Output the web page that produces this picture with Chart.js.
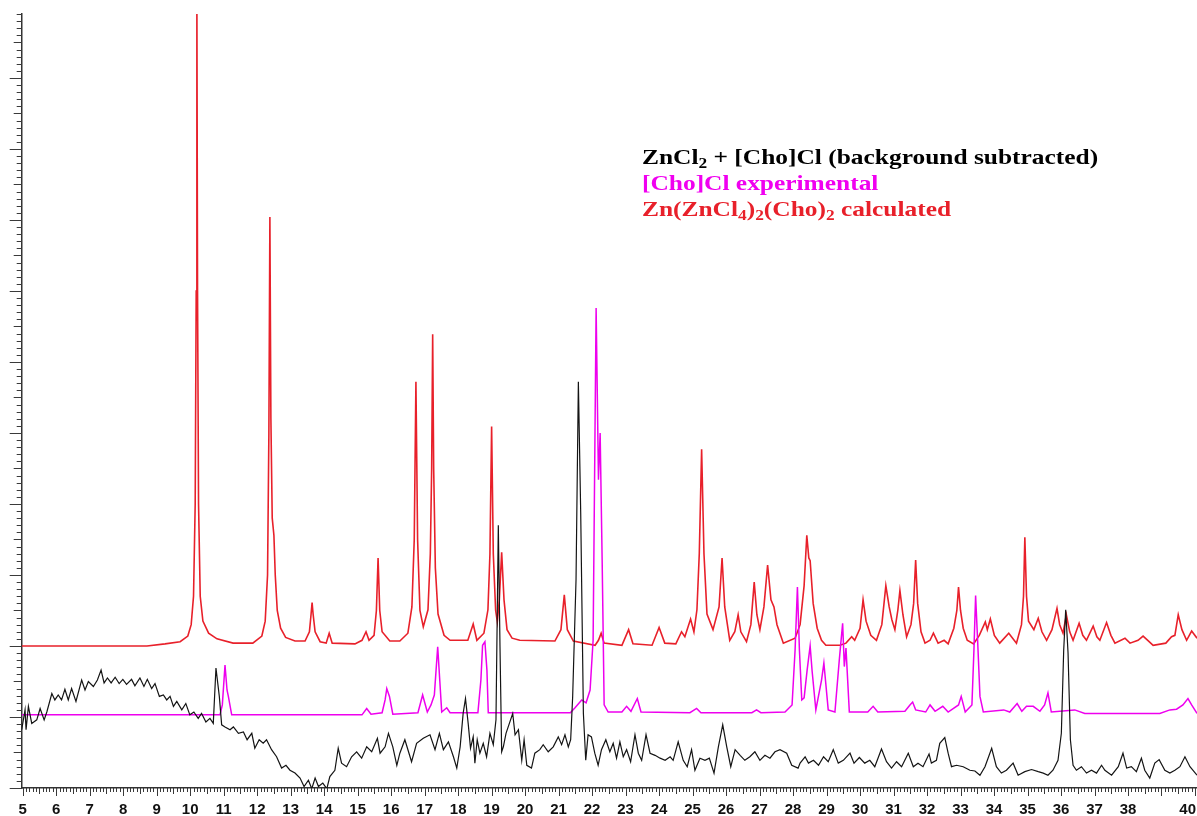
<!DOCTYPE html>
<html>
<head>
<meta charset="utf-8">
<title>XRD patterns</title>
<script src="https://cdn.jsdelivr.net/npm/chart.js@4.4.0/dist/chart.umd.min.js"></script>
<style>
    body { margin: 0; background: #fff; }
    #wrap { position: relative; width: 1197px; height: 816px; }
    #xrdChart { position: absolute; left: 0; top: 0; }
    #legend {
        position: absolute;
        left: 642px;
        top: 144px;
        font: bold 22px "Liberation Serif", "Times New Roman", serif;
        line-height: 26px;
        white-space: nowrap;
        transform: scaleX(1.155);
        transform-origin: 0 0;
    }
    #legend .sub { font-size: 15px; vertical-align: -4px; line-height: 0; }
</style>
</head>
<body>
<div id="wrap">
    <canvas id="xrdChart" width="1197" height="816"></canvas>
    <div id="legend">
        <div style="color:#000">ZnCl<span class="sub">2</span> + [Cho]Cl (background subtracted)</div>
        <div style="color:#f000f0">[Cho]Cl experimental</div>
        <div style="color:#e8202a">Zn(ZnCl<span class="sub">4</span>)<span class="sub">2</span>(Cho)<span class="sub">2</span> calculated</div>
    </div>
</div>
<script>
// ===================================
// Difractogramas: calculado, [Cho]Cl y mezcla
// ===================================

// eje x (2θ) y etiquetas
const xMin = 4.97;
const xMax = 40.06;
const yMin = 0;
const yMax = 109;
const xTickLabels = [5, 6, 7, 8, 9, 10, 11, 12, 13, 14, 15, 16, 17, 18, 19, 20, 21, 22, 23, 24, 25, 26, 27, 28, 29, 30, 31, 32, 33, 34, 35, 36, 37, 38, 40];

// Zn(ZnCl4)2(Cho)2 calculado  [2θ, intensidad]
const calculated = [
    [4.97, 20.0], [8.71, 20.0], [9.25, 20.3], [9.70, 20.6], [9.93, 21.4], [10.03, 23.0], [10.10, 27], [10.15, 40],
    [10.18, 70], [10.20, 112], [10.22, 70], [10.25, 40], [10.30, 27], [10.38, 23.5], [10.55, 21.8], [10.8, 21],
    [11.28, 20.4], [11.87, 20.4], [12.14, 21.4], [12.24, 23.5], [12.31, 30], [12.35, 50], [12.38, 80.4], [12.41, 52],
    [12.45, 38], [12.50, 35.6], [12.54, 30], [12.60, 25], [12.70, 22.5], [12.85, 21.2], [13.13, 20.7], [13.43, 20.7],
    [13.56, 22.0], [13.61, 24.5], [13.64, 26.1], [13.67, 24.5], [13.73, 22.0], [13.88, 20.6], [14.06, 20.4], [14.15, 21.8],
    [14.24, 20.4], [14.92, 20.3], [15.13, 20.8], [15.25, 22.0], [15.34, 20.8], [15.49, 21.5], [15.56, 25], [15.61, 32.4],
    [15.66, 25], [15.73, 22.0], [15.96, 20.7], [16.26, 20.7], [16.50, 21.8], [16.62, 25.5], [16.69, 35], [16.74, 57.2],
    [16.79, 35], [16.86, 25], [16.96, 22.7], [17.10, 25.1], [17.17, 33], [17.21, 45], [17.24, 63.9], [17.27, 45],
    [17.32, 31], [17.40, 24.5], [17.58, 21.5], [17.76, 20.8], [18.29, 20.8], [18.45, 23.1], [18.56, 20.8], [18.77, 21.8],
    [18.89, 25.1], [18.95, 33], [19.00, 50.9], [19.05, 33], [19.12, 25], [19.17, 23.4], [19.23, 26.5], [19.30, 33.2],
    [19.37, 26.5], [19.46, 22.3], [19.61, 21.1], [19.84, 20.8], [20.89, 20.7], [21.07, 22.3], [21.17, 27.2], [21.26, 22.3],
    [21.44, 20.7], [22.09, 20.1], [22.19, 20.8], [22.27, 21.8], [22.36, 20.4], [22.89, 20.1], [23.09, 22.3], [23.22, 20.3],
    [23.79, 20.1], [24.00, 22.6], [24.17, 20.4], [24.50, 20.3], [24.67, 22.0], [24.77, 21.3], [24.94, 23.8], [25.04, 22.0],
    [25.13, 25.1], [25.20, 33], [25.27, 47.7], [25.34, 33], [25.43, 24.5], [25.61, 22.3], [25.79, 25.5], [25.88, 32.4],
    [25.96, 25.5], [26.11, 20.8], [26.26, 22.0], [26.36, 24.4], [26.44, 22.0], [26.61, 20.6], [26.74, 23.0], [26.84, 29.0],
    [26.92, 24.4], [27.01, 22.3], [27.13, 25.5], [27.24, 31.4], [27.34, 26.5], [27.43, 25.5], [27.52, 23.0], [27.71, 20.4],
    [28.06, 21.1], [28.21, 23.0], [28.33, 28.5], [28.41, 35.6], [28.47, 32.4], [28.51, 32.0], [28.60, 26], [28.72, 22.5],
    [28.85, 20.8], [28.98, 20.1], [29.40, 20.1], [29.58, 20.4], [29.75, 21.3], [29.84, 20.8], [30.00, 22.5], [30.09, 26.5],
    [30.18, 23.5], [30.32, 21.5], [30.49, 20.8], [30.65, 23.0], [30.77, 28.5], [30.87, 25.5], [30.95, 23.7], [31.04, 22.3],
    [31.13, 25.1], [31.19, 27.8], [31.28, 24.4], [31.39, 21.3], [31.52, 23.0], [31.60, 26], [31.66, 32.1], [31.72, 26],
    [31.82, 22.0], [31.94, 20.4], [32.09, 20.8], [32.19, 21.8], [32.33, 20.4], [32.51, 20.8], [32.63, 20.3], [32.80, 22.5],
    [32.89, 25], [32.94, 28.3], [33.00, 25], [33.08, 22.5], [33.20, 20.8], [33.39, 20.3], [33.56, 21.5], [33.74, 23.4],
    [33.80, 22.3], [33.89, 23.8], [34.01, 21.5], [34.17, 20.4], [34.44, 21.8], [34.67, 20.4], [34.82, 23.0], [34.88, 27],
    [34.92, 35.3], [34.97, 27], [35.03, 23.5], [35.19, 22.3], [35.32, 23.9], [35.43, 22.0], [35.57, 20.8], [35.73, 22.3],
    [35.88, 25.3], [35.96, 23.0], [36.06, 21.8], [36.16, 24.4], [36.26, 22.0], [36.36, 20.8], [36.54, 23.2], [36.65, 21.5],
    [36.76, 20.8], [36.96, 22.8], [37.07, 21.3], [37.16, 20.8], [37.36, 23.3], [37.49, 21.5], [37.61, 20.4], [37.91, 21.1],
    [38.06, 20.4], [38.30, 20.8], [38.45, 21.4], [38.59, 20.8], [38.75, 20.1], [39.13, 20.4], [39.30, 21.3], [39.40, 21.5],
    [39.50, 24.4], [39.61, 22.3], [39.75, 20.8], [39.90, 22.1], [40.06, 21.1]
];

// [Cho]Cl experimental
const experimental = [
    [4.97, 10.3], [10.89, 10.3], [10.96, 11.7], [11.04, 17.3], [11.10, 13.8], [11.14, 12.9], [11.24, 10.3], [15.13, 10.3],
    [15.27, 11.2], [15.40, 10.4], [15.73, 10.6], [15.82, 12.4], [15.87, 14.0], [15.95, 12.9], [16.05, 10.4], [16.80, 10.6],
    [16.94, 13.1], [17.08, 10.7], [17.19, 11.7], [17.29, 13.1], [17.39, 19.9], [17.51, 10.7], [17.66, 11.3], [17.76, 10.6],
    [18.59, 10.6], [18.68, 15.2], [18.73, 20.1], [18.80, 20.6], [18.86, 16.6], [18.90, 10.6], [21.35, 10.6], [21.49, 11.3],
    [21.69, 12.4], [21.82, 12.0], [21.94, 13.8], [22.03, 20.8], [22.12, 67.6], [22.19, 43.4], [22.24, 50.0], [22.30, 32.1],
    [22.36, 11.7], [22.48, 10.7], [22.89, 10.7], [23.03, 11.5], [23.16, 10.8], [23.35, 12.6], [23.46, 10.7], [24.92, 10.6],
    [25.12, 11.2], [25.25, 10.6], [26.77, 10.6], [26.91, 11.0], [27.04, 10.6], [27.76, 10.7], [27.97, 11.7], [28.06, 19.4],
    [28.13, 28.3], [28.19, 19.4], [28.26, 12.4], [28.33, 12.7], [28.42, 16.6], [28.51, 20.0], [28.57, 16.4], [28.68, 11.0],
    [28.85, 15.2], [28.92, 17.6], [29.05, 11.0], [29.25, 10.7], [29.38, 18.0], [29.48, 23.2], [29.53, 17.1], [29.58, 19.7],
    [29.68, 10.7], [30.23, 10.7], [30.39, 11.5], [30.53, 10.7], [31.34, 10.8], [31.49, 11.7], [31.57, 12.1], [31.66, 11.0],
    [31.96, 10.7], [32.09, 11.7], [32.24, 10.8], [32.47, 11.5], [32.63, 10.7], [32.94, 11.7], [33.02, 12.9], [33.14, 10.7],
    [33.34, 11.7], [33.40, 19.4], [33.45, 27.1], [33.51, 20.8], [33.58, 12.9], [33.68, 10.7], [34.29, 11.0], [34.47, 10.7],
    [34.69, 11.9], [34.83, 10.8], [34.97, 11.5], [35.17, 11.5], [35.37, 10.8], [35.51, 11.7], [35.61, 13.4], [35.71, 10.7],
    [36.41, 11.0], [36.71, 10.5], [38.95, 10.5], [39.25, 11.0], [39.45, 11.1], [39.64, 11.7], [39.79, 12.6], [39.90, 11.7],
    [40.06, 10.5]
];

// ZnCl2 + [Cho]Cl (fondo restado)
const mixture = [
    [4.97, 8.2], [5.07, 11.0], [5.10, 8.2], [5.17, 11.5], [5.27, 9.1], [5.42, 9.6], [5.52, 11.2], [5.64, 9.6],
    [5.72, 10.7], [5.87, 13.3], [5.96, 12.4], [6.06, 13.1], [6.16, 12.4], [6.26, 13.9], [6.36, 12.4], [6.46, 14.0],
    [6.59, 12.2], [6.76, 15.2], [6.86, 13.8], [6.96, 15.0], [7.11, 14.3], [7.23, 15.2], [7.34, 16.6], [7.43, 14.8],
    [7.53, 15.5], [7.64, 14.8], [7.76, 15.6], [7.88, 14.7], [7.99, 15.3], [8.10, 14.6], [8.25, 15.3], [8.35, 14.4],
    [8.50, 15.5], [8.62, 14.3], [8.72, 15.3], [8.85, 14.0], [8.95, 14.7], [9.08, 12.9], [9.20, 13.1], [9.30, 12.4],
    [9.40, 12.9], [9.50, 11.5], [9.60, 12.2], [9.75, 11.0], [9.87, 11.9], [9.99, 10.3], [10.11, 10.7], [10.24, 9.8],
    [10.34, 10.5], [10.47, 9.3], [10.59, 9.8], [10.69, 9.1], [10.77, 16.9], [10.87, 12.9], [10.94, 8.9], [11.04, 8.6],
    [11.19, 8.2], [11.29, 8.6], [11.44, 7.7], [11.59, 7.9], [11.70, 6.8], [11.84, 7.7], [11.93, 5.6], [12.06, 6.8],
    [12.18, 6.3], [12.28, 6.8], [12.43, 5.4], [12.58, 4.4], [12.73, 2.8], [12.86, 3.2], [12.98, 2.5], [13.13, 2.1],
    [13.28, 1.4], [13.40, 0.2], [13.53, 1.1], [13.63, -0.1], [13.73, 1.4], [13.83, 0.2], [13.96, 0.7], [14.08, -0.1],
    [14.17, 1.6], [14.32, 2.5], [14.42, 5.6], [14.52, 3.5], [14.67, 3.0], [14.82, 4.4], [14.97, 5.1], [15.12, 4.2],
    [15.27, 5.8], [15.42, 5.1], [15.59, 7.0], [15.67, 4.9], [15.82, 5.8], [15.92, 7.7], [16.05, 5.8], [16.17, 3.2],
    [16.26, 4.9], [16.41, 6.8], [16.61, 3.7], [16.76, 6.3], [16.96, 7.0], [17.16, 7.5], [17.31, 5.4], [17.44, 7.7],
    [17.56, 5.4], [17.71, 6.5], [17.86, 4.4], [17.96, 2.8], [18.06, 5.8], [18.15, 10.5], [18.22, 12.6], [18.30, 9.1],
    [18.37, 5.6], [18.45, 7.2], [18.50, 3.5], [18.57, 6.8], [18.65, 4.9], [18.75, 6.3], [18.85, 4.4], [18.95, 7.7],
    [19.05, 6.1], [19.13, 9.6], [19.20, 37.0], [19.25, 19.9], [19.30, 5.1], [19.35, 5.8], [19.43, 7.7], [19.53, 9.1],
    [19.63, 10.5], [19.70, 7.5], [19.80, 8.2], [19.90, 3.9], [19.97, 6.8], [20.05, 3.2], [20.19, 2.8], [20.29, 4.9],
    [20.44, 5.4], [20.54, 6.1], [20.69, 5.1], [20.84, 5.8], [20.99, 7.2], [21.09, 6.1], [21.19, 7.5], [21.29, 5.8],
    [21.36, 6.8], [21.42, 12.9], [21.52, 29.3], [21.59, 57.2], [21.66, 38.7], [21.74, 10.5], [21.81, 3.9], [21.88, 7.5],
    [21.98, 7.2], [22.08, 4.9], [22.18, 3.2], [22.28, 5.4], [22.41, 6.8], [22.53, 5.1], [22.63, 6.3], [22.73, 4.2],
    [22.83, 6.5], [22.93, 4.4], [23.03, 5.4], [23.15, 3.7], [23.28, 7.5], [23.38, 4.9], [23.48, 3.9], [23.61, 7.5],
    [23.73, 4.9], [23.88, 4.6], [24.03, 4.2], [24.18, 3.9], [24.33, 4.4], [24.42, 3.9], [24.57, 6.5], [24.72, 3.9],
    [24.84, 3.0], [24.97, 5.4], [25.07, 2.5], [25.22, 4.2], [25.37, 3.9], [25.50, 4.2], [25.64, 2.1], [25.77, 5.8],
    [25.90, 8.9], [26.02, 5.8], [26.14, 3.0], [26.27, 5.4], [26.42, 4.6], [26.56, 3.9], [26.71, 4.4], [26.86, 5.1],
    [27.01, 3.9], [27.16, 4.6], [27.31, 4.2], [27.46, 5.1], [27.61, 5.4], [27.81, 4.9], [27.96, 3.2], [28.15, 2.8],
    [28.21, 3.5], [28.36, 4.4], [28.46, 3.5], [28.61, 3.9], [28.76, 3.2], [28.91, 4.4], [29.05, 3.7], [29.20, 5.4],
    [29.35, 3.5], [29.50, 3.9], [29.70, 4.9], [29.82, 3.5], [29.98, 4.3], [30.14, 3.5], [30.29, 3.9], [30.44, 3.0],
    [30.64, 5.5], [30.79, 3.7], [30.94, 2.8], [31.09, 3.7], [31.24, 3.0], [31.44, 4.9], [31.59, 3.0], [31.73, 3.5],
    [31.88, 3.0], [32.06, 4.8], [32.13, 3.5], [32.28, 3.9], [32.38, 6.3], [32.53, 7.1], [32.63, 4.9], [32.73, 3.0],
    [32.88, 3.2], [33.08, 3.0], [33.28, 2.5], [33.43, 2.4], [33.58, 1.8], [33.73, 3.0], [33.93, 5.6], [34.07, 3.0],
    [34.22, 2.1], [34.37, 2.5], [34.57, 3.5], [34.72, 1.8], [34.92, 2.3], [35.12, 2.6], [35.32, 2.3], [35.47, 2.1],
    [35.61, 1.8], [35.76, 2.5], [35.91, 3.9], [36.01, 7.7], [36.08, 19.4], [36.14, 25.1], [36.21, 19.0], [36.28, 6.8],
    [36.36, 3.2], [36.46, 2.5], [36.61, 3.0], [36.76, 2.1], [36.91, 2.5], [37.06, 2.1], [37.21, 3.2], [37.31, 2.5],
    [37.51, 1.8], [37.71, 3.0], [37.85, 4.9], [37.96, 2.8], [38.10, 3.0], [38.25, 2.3], [38.40, 4.2], [38.50, 2.5],
    [38.65, 1.4], [38.80, 3.5], [38.93, 4.0], [39.10, 2.5], [39.25, 2.1], [39.40, 2.5], [39.55, 3.0], [39.70, 4.4],
    [39.85, 3.0], [40.06, 1.8]
];

const toPoints = arr => arr.map(p => ({ x: p[0], y: p[1] }));

// Marcas de eje (menores, medias, mayores) y etiquetas del eje x
const axisDecor = {
    id: 'axisDecor',
    afterDraw(chart) {
        const ctx = chart.ctx;
        const xs = chart.scales.x;
        const ys = chart.scales.y;
        const area = chart.chartArea;
        ctx.save();
        ctx.strokeStyle = '#3a3a3a';
        ctx.lineWidth = 1;
        ctx.beginPath();
        for (let v = yMin; v <= yMax; v++) {
            const py = Math.round(ys.getPixelForValue(v)) + 0.5;
            const len = v % 10 === 0 ? 12 : (v % 5 === 0 ? 8 : 5);
            ctx.moveTo(area.left - len, py);
            ctx.lineTo(area.left, py);
        }
        for (let i = 50; i <= 400; i++) {
            const px = Math.round(xs.getPixelForValue(i / 10)) + 0.5;
            const len = i % 10 === 0 ? 8 : (i % 5 === 0 ? 6 : 4);
            ctx.moveTo(px, area.bottom);
            ctx.lineTo(px, area.bottom + len);
        }
        ctx.stroke();

        ctx.fillStyle = '#111';
        ctx.font = 'bold 15px "Liberation Sans", Arial, sans-serif';
        ctx.textAlign = 'center';
        ctx.textBaseline = 'alphabetic';
        xTickLabels.forEach(v => {
            const label = String(v);
            const w = ctx.measureText(label).width;
            let px = xs.getPixelForValue(v);
            px = Math.min(px, chart.width - w / 2 - 1);
            ctx.fillText(label, px, area.bottom + 26);
        });
        ctx.restore();
    }
};

const ctx = document.getElementById('xrdChart');

new Chart(ctx, {
    type: 'line',
    data: {
        datasets: [
            {
                label: 'ZnCl2 + [Cho]Cl (background subtracted)',
                data: toPoints(mixture),
                borderColor: '#141414',
                borderWidth: 1.2,
                pointRadius: 0,
                tension: 0,
                order: 1
            },
            {
                label: '[Cho]Cl experimental',
                data: toPoints(experimental),
                borderColor: '#ee00ee',
                borderWidth: 1.5,
                pointRadius: 0,
                tension: 0,
                order: 2
            },
            {
                label: 'Zn(ZnCl4)2(Cho)2 calculated',
                data: toPoints(calculated),
                borderColor: '#e8202a',
                borderWidth: 1.6,
                pointRadius: 0,
                tension: 0,
                order: 3
            }
        ]
    },
    options: {
        responsive: false,
        devicePixelRatio: 1,
        animation: false,
        layout: {
            padding: { left: 21.7, top: 14, right: 0, bottom: 28 }
        },
        plugins: {
            legend: { display: false },
            tooltip: { enabled: false }
        },
        scales: {
            x: {
                type: 'linear',
                min: xMin,
                max: xMax,
                grid: { display: false, drawTicks: false },
                border: { display: true, color: '#333', width: 1.5 },
                ticks: { display: false }
            },
            y: {
                type: 'linear',
                min: yMin,
                max: yMax,
                grid: { display: false, drawTicks: false },
                border: { display: true, color: '#333', width: 1.5 },
                ticks: { display: false }
            }
        }
    },
    plugins: [axisDecor]
});
</script>
</body>
</html>
